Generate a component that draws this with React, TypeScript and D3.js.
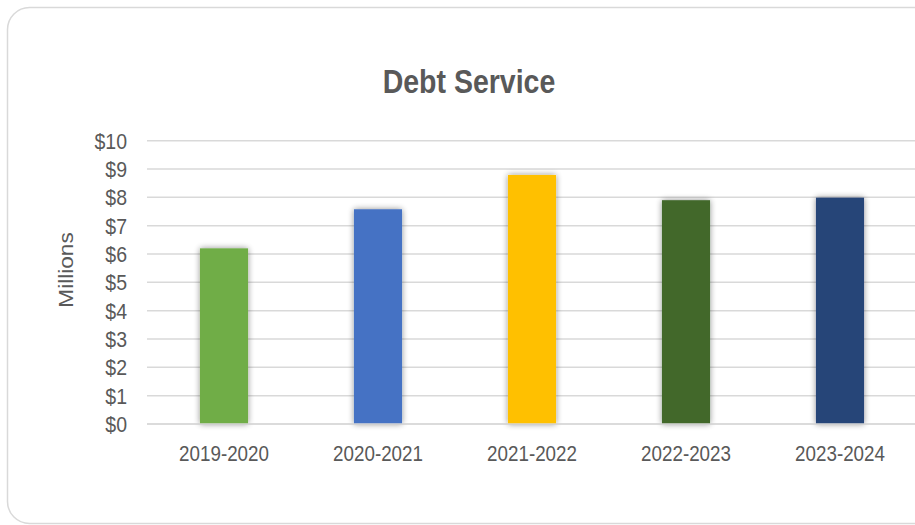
import React from "react";
import * as d3 from "d3";

const categories = ["2019-2020", "2020-2021", "2021-2022", "2022-2023", "2023-2024"];
const values = [6.2, 7.58, 8.79, 7.9, 7.99];
const barColors = ["#70AD47", "#4472C4", "#FFC000", "#43682B", "#264478"];
const yTicks = [0, 1, 2, 3, 4, 5, 6, 7, 8, 9, 10];
const title = "Debt Service";
const yAxisTitle = "Millions";

const W = 915;
const H = 525;
const SY = 1.16;
const FONT = "'Liberation Sans', Arial, sans-serif";
const TXT = "#595959";

export default function App() {
  const x = d3.scaleBand<string>().domain(categories).range([147, 917]).paddingInner(0.688).paddingOuter(0.344);
  const y = d3.scaleLinear().domain([0, 10]).range([424, 140.7]);

  return (
    <svg width={W} height={H} style={{ position: "absolute", left: 0, top: 0, background: "#fff" }}>
      <defs>
        <filter id="sh" x="-30%" y="-10%" width="160%" height="120%">
          <feGaussianBlur in="SourceAlpha" stdDeviation="3" />
          <feOffset dx="0" dy="0" result="b" />
          <feComponentTransfer>
            <feFuncA type="linear" slope="0.45" />
          </feComponentTransfer>
          <feMerge>
            <feMergeNode />
            <feMergeNode in="SourceGraphic" />
          </feMerge>
        </filter>
      </defs>
      <rect x={7.5} y={7.5} width={930} height={516} rx={22} ry={22} fill="#fff" stroke="#d9d9d9" strokeWidth={1.5} />
      {yTicks.map((t) => (
        <line key={t} x1={147} x2={W} y1={y(t)} y2={y(t)} stroke="#d9d9d9" strokeWidth={1.5} />
      ))}
      {categories.map((c, i) => (
        <rect
          key={c}
          x={x(c)}
          y={y(values[i])}
          width={x.bandwidth()}
          height={y(0) - y(values[i])}
          fill={barColors[i]}
          filter="url(#sh)"
        />
      ))}
      <line x1={147} x2={W} y1={y(0)} y2={y(0)} stroke="#d9d9d9" strokeWidth={1.5} />
      {yTicks.map((t) => (
        <text
          key={t}
          transform={`translate(127,${y(t)}) scale(1,${SY})`}
          textAnchor="end"
          dominantBaseline="central"
          fontFamily={FONT}
          fontSize={19.5}
          fill={TXT}
        >
          {d3.format("$")(t)}
        </text>
      ))}
      {categories.map((c) => (
        <text
          key={c}
          transform={`translate(${(x(c) ?? 0) + x.bandwidth() / 2},${453.5}) scale(1,${SY})`}
          textAnchor="middle"
          dominantBaseline="central"
          fontFamily={FONT}
          fontSize={18.8}
          fill={TXT}
        >
          {c}
        </text>
      ))}
      <text
        transform={`translate(66,270) scale(1,${SY}) rotate(-90)`}
        textAnchor="middle"
        dominantBaseline="central"
        fontFamily={FONT}
        fontSize={19.5}
        fill={TXT}
      >
        {yAxisTitle}
      </text>
      <text
        transform={`translate(469,93.3) scale(1,${SY})`}
        textAnchor="middle"
        fontFamily={FONT}
        fontSize={28.5}
        fontWeight="bold"
        fill={TXT}
      >
        {title}
      </text>
    </svg>
  );
}
